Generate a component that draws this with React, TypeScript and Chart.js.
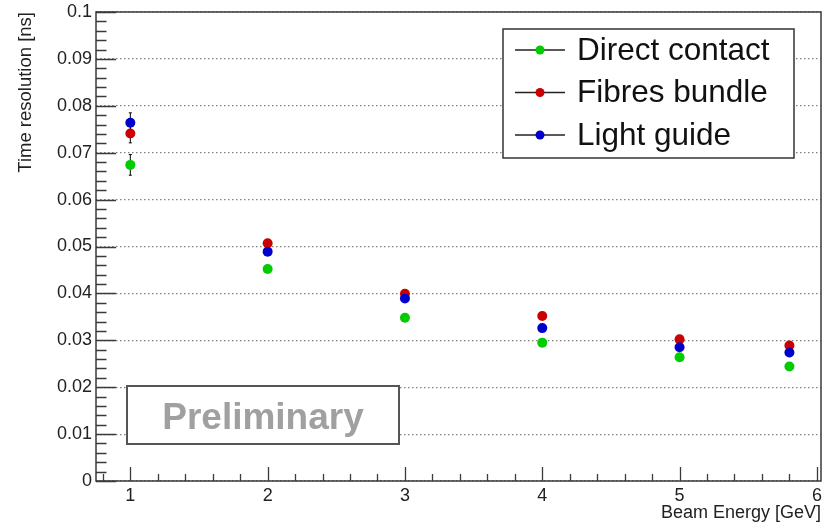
import React, { useEffect, useRef } from 'react';
import { Chart, registerables } from 'chart.js';

Chart.register(...registerables);

// ---- data ----
const energies = [1, 2, 3, 4, 5, 5.8];
const seriesLabels = ['Direct contact', 'Fibres bundle', 'Light guide'];
const seriesColors = ['#00cc00', '#cc0000', '#0000cc'];
const directContact = [0.0674, 0.0452, 0.0348, 0.0295, 0.0264, 0.0244];
const fibresBundle = [0.0741, 0.0507, 0.0399, 0.0352, 0.0302, 0.0289];
const lightGuide = [0.0764, 0.0489, 0.0389, 0.0326, 0.0285, 0.0274];
const directErr = [0.0022, 0.0005, 0.0005, 0.0005, 0.0005, 0.0005];
const fibresErr = [0.002, 0.0005, 0.0005, 0.0005, 0.0005, 0.0005];
const lightErr = [0.0021, 0.0005, 0.0005, 0.0005, 0.0005, 0.0005];
const xTickValues = [1, 2, 3, 4, 5, 6];
const yTickValues = [0, 0.01, 0.02, 0.03, 0.04, 0.05, 0.06, 0.07, 0.08, 0.09, 0.1];
const xTitle = 'Beam Energy [GeV]';
const yTitle = 'Time resolution [ns]';
const stampText = 'Preliminary';

const FONT = '"Liberation Sans", Arial, Helvetica, sans-serif';
const AXIS_COLOR = '#3a3a3a';

const allValues = [directContact, fibresBundle, lightGuide];
const allErrors = [directErr, fibresErr, lightErr];

const rootPlugin = {
  id: 'rootStyle',
  beforeDatasetsDraw(chart: any) {
    const ctx = chart.ctx as CanvasRenderingContext2D;
    const { left } = chart.chartArea;
    const xs = chart.scales.x;
    const ys = chart.scales.y;

    // Preliminary stamp
    ctx.save();
    const bx = left + 31, by = 386, bw = 272, bh = 58;
    ctx.fillStyle = '#ffffff';
    ctx.fillRect(bx, by, bw, bh);
    ctx.strokeStyle = '#555555';
    ctx.lineWidth = 2;
    ctx.strokeRect(bx, by, bw, bh);
    ctx.fillStyle = '#a0a0a0';
    ctx.font = `bold 37px ${FONT}`;
    ctx.textAlign = 'center';
    ctx.textBaseline = 'alphabetic';
    ctx.fillText(stampText, bx + bw / 2, 429);
    ctx.restore();

    // Legend
    ctx.save();
    const lx = 503, ly = 29, lw = 291, lh = 129;
    ctx.fillStyle = '#ffffff';
    ctx.fillRect(lx, ly, lw, lh);
    ctx.strokeStyle = '#333333';
    ctx.lineWidth = 1.5;
    ctx.strokeRect(lx, ly, lw, lh);
    const rowY = [50, 92.5, 135];
    seriesLabels.forEach((lab, i) => {
      const yy = rowY[i];
      ctx.strokeStyle = '#222222';
      ctx.lineWidth = 1.3;
      ctx.beginPath();
      ctx.moveTo(515, yy);
      ctx.lineTo(565, yy);
      ctx.stroke();
      ctx.fillStyle = seriesColors[i];
      ctx.beginPath();
      ctx.arc(540, yy, 4.5, 0, Math.PI * 2);
      ctx.fill();
      ctx.fillStyle = '#111111';
      ctx.font = `31.5px ${FONT}`;
      ctx.textAlign = 'left';
      ctx.textBaseline = 'middle';
      ctx.fillText(lab, 577, yy + 1);
    });
    ctx.restore();

    // Error bars
    ctx.save();
    ctx.strokeStyle = '#000000';
    ctx.lineWidth = 1;
    allValues.forEach((vals, s) => {
      vals.forEach((v, i) => {
        const px = xs.getPixelForValue(energies[i]);
        const p1 = ys.getPixelForValue(v + allErrors[s][i]);
        const p2 = ys.getPixelForValue(v - allErrors[s][i]);
        ctx.beginPath();
        ctx.moveTo(px, p1);
        ctx.lineTo(px, p2);
        ctx.moveTo(px - 1.5, p1);
        ctx.lineTo(px + 1.5, p1);
        ctx.moveTo(px - 1.5, p2);
        ctx.lineTo(px + 1.5, p2);
        ctx.stroke();
      });
    });
    ctx.restore();
  },
  afterDatasetsDraw(chart: any) {
    const ctx = chart.ctx as CanvasRenderingContext2D;
    const { left, right, top, bottom } = chart.chartArea;
    const xs = chart.scales.x;
    const ys = chart.scales.y;
    ctx.save();
    ctx.strokeStyle = AXIS_COLOR;
    ctx.lineWidth = 1.5;
    ctx.strokeRect(left, top, right - left, bottom - top);
    ctx.lineWidth = 1.3;
    ctx.beginPath();
    // y ticks (inside)
    for (let k = 0; k <= 50; k++) {
      const v = k * 0.002;
      const py = Math.round(ys.getPixelForValue(v)) + 0.5;
      const len = k % 5 === 0 ? 20 : 10.5;
      ctx.moveTo(left, py);
      ctx.lineTo(left + len, py);
    }
    // x ticks (inside)
    for (let k = 4; k <= 30; k++) {
      const v = k * 0.2;
      const px = Math.round(xs.getPixelForValue(v)) + 0.5;
      const len = k % 5 === 0 ? 14 : 7;
      ctx.moveTo(px, bottom);
      ctx.lineTo(px, bottom - len);
    }
    ctx.stroke();
    ctx.restore();
  },
};

export default function App() {
  const ref = useRef<HTMLCanvasElement | null>(null);
  useEffect(() => {
    if (!ref.current) return;
    const mk = (vals: number[]) => energies.map((x, i) => ({ x, y: vals[i] }));
    const chart = new Chart(ref.current, {
      type: 'scatter',
      data: {
        datasets: allValues.map((vals, i) => ({
          label: seriesLabels[i],
          data: mk(vals),
          backgroundColor: seriesColors[i],
          borderColor: seriesColors[i],
          borderWidth: 0,
          pointRadius: 5,
          order: 2 - i,
        })),
      },
      options: {
        animation: false,
        responsive: false,
        layout: { padding: { top: 12, right: 15, left: 0, bottom: 0 } },
        plugins: { legend: { display: false }, tooltip: { enabled: false } },
        scales: {
          x: {
            type: 'linear',
            min: 0.75,
            max: 6.03,
            afterBuildTicks: (s: any) => { s.ticks = xTickValues.map((v) => ({ value: v })); },
            afterFit: (s: any) => { s.height = 42; s.paddingLeft = 0; s.paddingRight = 0; },
            grid: { display: false, drawTicks: false },
            border: { display: false },
            ticks: {
              padding: 4,
              color: '#222',
              font: { family: FONT, size: 18 },
              maxRotation: 0,
              callback: (v: any) => String(v),
            },
            title: {
              display: true,
              text: xTitle,
              align: 'end',
              color: '#222',
              font: { family: FONT, size: 18, lineHeight: 1.1 },
              padding: { top: 0, bottom: 0 },
            },
          },
          y: {
            type: 'linear',
            min: 0,
            max: 0.1,
            afterBuildTicks: (s: any) => { s.ticks = yTickValues.map((v) => ({ value: v })); },
            afterFit: (s: any) => { s.width = 96; s.paddingTop = 0; s.paddingBottom = 0; },
            grid: { drawTicks: false, color: '#808080', lineWidth: 1.2 },
            border: { display: false, dash: [1.5, 2.5] },
            ticks: {
              padding: 4,
              color: '#222',
              font: { family: FONT, size: 18 },
              callback: (v: any) => String(Number(Number(v).toFixed(3))),
            },
            title: {
              display: true,
              text: yTitle,
              align: 'end',
              color: '#222',
              font: { family: FONT, size: 18.5, lineHeight: 1.2 },
              padding: { top: 15, bottom: 0 },
            },
          },
        },
      },
      plugins: [rootPlugin],
    });
    return () => chart.destroy();
  }, []);
  return (
    <div style={{ position: 'absolute', left: 0, top: 0, width: 836, height: 523, background: '#fff' }}>
      <canvas ref={ref} width={836} height={523} style={{ display: 'block' }} />
    </div>
  );
}
